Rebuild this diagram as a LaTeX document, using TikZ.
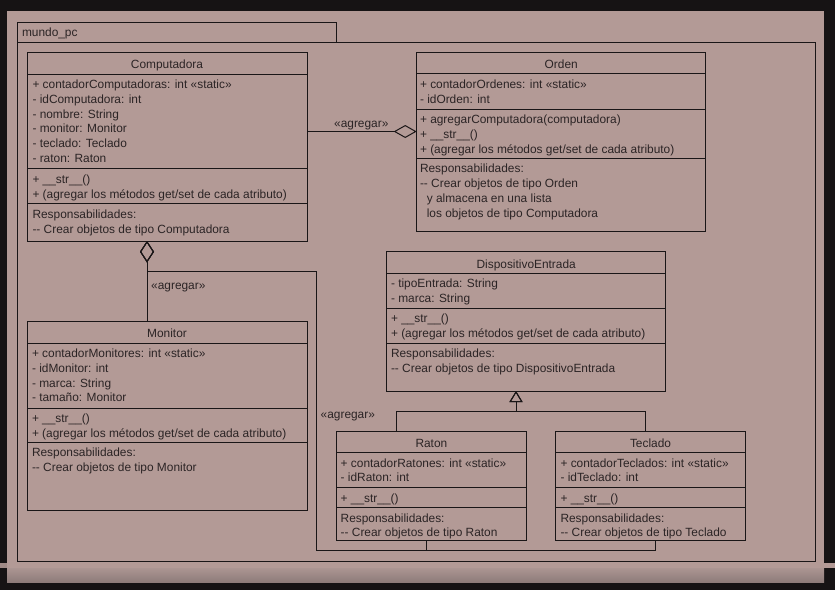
\documentclass[tikz,border=0pt]{standalone}
\usepackage{fontspec}
\newfontfamily\umlfont{Liberation Sans}
\usetikzlibrary{arrows.meta}

\definecolor{bgdark}{HTML}{161314}
\definecolor{canvas}{HTML}{B39A96}
\definecolor{bandtop}{HTML}{AA9491}
\definecolor{bandbot}{HTML}{8E7C7A}
\definecolor{ink}{HTML}{1A1617}
\definecolor{txt}{HTML}{2B2425}

% One UML class box with its compartment separators:
% #1 name, #2 left, #3 right, #4 top, #5 head line, #6 attribute line, #7 method line, #8 bottom
\newcommand\umlclass[8]{%
  \node[classbox, minimum width={#3-#2}, minimum height={#8-#4}] (#1) at ({(#2+#3)/2},{(#4+#8)/2}) {};
  \draw[sep] (#1.west |- 0,#5) -- (#1.east |- 0,#5);
  \draw[sep] (#1.west |- 0,#6) -- (#1.east |- 0,#6);
  \draw[sep] (#1.west |- 0,#7) -- (#1.east |- 0,#7);
}

\begin{document}
\begin{tikzpicture}[x=1pt, y=-1pt,
  classbox/.style={draw=ink, line width=1pt, inner sep=0pt, outer sep=0pt},
  sep/.style={draw=ink, line width=1pt},
  edge/.style={draw=ink, line width=1pt},
  lbl/.style={inner sep=0pt, outer sep=0pt, text=txt, align=left,
              font=\umlfont\fontsize{11.9}{14.75}\selectfont},
  agg/.style={edge, -{Diamond[open, length=23pt, width=13pt]}},
  aggv/.style={edge, -{Diamond[open, length=21.5pt, width=14pt]}},
  gen/.style={edge, -{Triangle[open, length=11pt, width=13pt]}},
]
\useasboundingbox (0,0) rectangle (835,590);

% window backdrop
\fill[bgdark] (0,0) rectangle (835,590);
\fill[canvas!90!black] (0,563.3) rectangle (7,568.3);
\fill[canvas] (824,563.3) rectangle (835,568.3);
\fill[canvas] (7,11) rectangle (824,568.5);
\shade[top color=bandtop, bottom color=bandbot] (7,568.5) rectangle (824,582);

% package frame
\node[classbox, minimum width=319.7, minimum height=20] (pkgtab) at (176.85,32) {};
\node[classbox, minimum width=798, minimum height=519] (pkg) at (416,301.5) {};
\node[lbl, anchor=base west] (pkgname) at (22,36.7) {mundo\_pc};

% multi-line texts are placed by the baseline of their last line

% Computadora
\umlclass{comp}{27}{307}{52}{74}{168.7}{203.7}{241}
\node[lbl, anchor=base] (comp-t) at (167,68.3) {Computadora};
\node[lbl, anchor=base west] (comp-a) at (32.5,162.25) {+ contadorComputadoras: int «static»\\- idComputadora: int\\- nombre: String\\- monitor: Monitor\\- teclado: Teclado\\- raton: Raton};
\node[lbl, anchor=base west] (comp-m) at (32.5,198.15) {+ \_\_str\_\_()\\+ (agregar los métodos get/set de cada atributo)};
\node[lbl, anchor=base west] (comp-r) at (32.5,233.05) {Responsabilidades:\\-- Crear objetos de tipo Computadora};

% Orden
\umlclass{orden}{416.7}{705.7}{52}{73.7}{109}{158}{231}
\node[lbl, anchor=base] (orden-t) at (561.2,68.3) {Orden};
\node[lbl, anchor=base west] (orden-a) at (420,103.05) {+ contadorOrdenes: int «static»\\- idOrden: int};
\node[lbl, anchor=base west] (orden-m) at (420,153.1) {+ agregarComputadora(computadora)\\+ \_\_str\_\_()\\+ (agregar los métodos get/set de cada atributo)};
\node[lbl, anchor=base west] (orden-r) at (420,217.05) {Responsabilidades:\\-- Crear objetos de tipo Orden\\\hspace*{6.8pt}y almacena en una lista\\\hspace*{6.8pt}los objetos de tipo Computadora};

% Monitor
\umlclass{monitor}{27}{307}{321}{343}{408}{442}{510}
\node[lbl, anchor=base] (monitor-t) at (167,337.2) {Monitor};
\node[lbl, anchor=base west] (monitor-a) at (32,401.95) {+ contadorMonitores: int «static»\\- idMonitor: int\\- marca: String\\- tamaño: Monitor};
\node[lbl, anchor=base west] (monitor-m) at (32,437.35) {+ \_\_str\_\_()\\+ (agregar los métodos get/set de cada atributo)};
\node[lbl, anchor=base west] (monitor-r) at (32,471.55) {Responsabilidades:\\-- Crear objetos de tipo Monitor};

% DispositivoEntrada
\umlclass{disp}{386.7}{665.7}{251.7}{273.3}{308.3}{343.3}{391}
\node[lbl, anchor=base] (disp-t) at (526.2,268) {DispositivoEntrada};
\node[lbl, anchor=base west] (disp-a) at (391,302.35) {- tipoEntrada: String\\- marca: String};
\node[lbl, anchor=base west] (disp-m) at (391,337.55) {+ \_\_str\_\_()\\+ (agregar los métodos get/set de cada atributo)};
\node[lbl, anchor=base west] (disp-r) at (391,372.35) {Responsabilidades:\\-- Crear objetos de tipo DispositivoEntrada};

% Raton
\umlclass{raton}{336.5}{526.2}{431}{452.7}{487.7}{507.7}{540.7}
\node[lbl, anchor=base] (raton-t) at (431.4,447.2) {Raton};
\node[lbl, anchor=base west] (raton-a) at (340.7,481.95) {+ contadorRatones: int «static»\\- idRaton: int};
\node[lbl, anchor=base west] (raton-m) at (340.7,502.2) {+ \_\_str\_\_()};
\node[lbl, anchor=base west] (raton-r) at (340.7,536.95) {Responsabilidades:\\-- Crear objetos de tipo Raton};

% Teclado
\umlclass{teclado}{555.9}{745.2}{431}{452.7}{487.7}{507.7}{540.7}
\node[lbl, anchor=base] (teclado-t) at (650.5,447.2) {Teclado};
\node[lbl, anchor=base west] (teclado-a) at (560.5,481.95) {+ contadorTeclados: int «static»\\- idTeclado: int};
\node[lbl, anchor=base west] (teclado-m) at (560.5,502.2) {+ \_\_str\_\_()};
\node[lbl, anchor=base west] (teclado-r) at (560.5,536.95) {Responsabilidades:\\-- Crear objetos de tipo Teclado};

% aggregations
\draw[agg] (comp.east |- 0,131.5) -- (orden.west |- 0,131.5);
\node[lbl, anchor=base] (agg1) at (361.3,127.6) {«agregar»};

\draw[aggv] (147,0 |- monitor.north) -- (147,0 |- comp.south);
\node[lbl, anchor=base west] (agg2) at (151.2,289.6) {«agregar»};

\coordinate (busR) at (316.5,550);
\coordinate (busT) at (316.5,271.7);
\coordinate (busL) at (147,271.7);
\draw[aggv] (426.2,0 |- raton.south) -- (426.2,550) -- (busR) -- (busT) -- (busL) -- (147,0 |- comp.south);
\draw[aggv] (655.5,0 |- teclado.south) -- (655.5,550) -- (busR) -- (busT) -- (busL) -- (147,0 |- comp.south);
\node[lbl, anchor=base west] (agg3) at (320.7,418.4) {«agregar»};

% generalization
\coordinate (genJ) at (516,411);
\draw[gen] (396.7,0 |- raton.north) -- (396.7,411) -- (genJ) -- (516,0 |- disp.south);
\draw[gen] (645.7,0 |- teclado.north) -- (645.7,411) -- (genJ) -- (516,0 |- disp.south);
\end{tikzpicture}
\end{document}
